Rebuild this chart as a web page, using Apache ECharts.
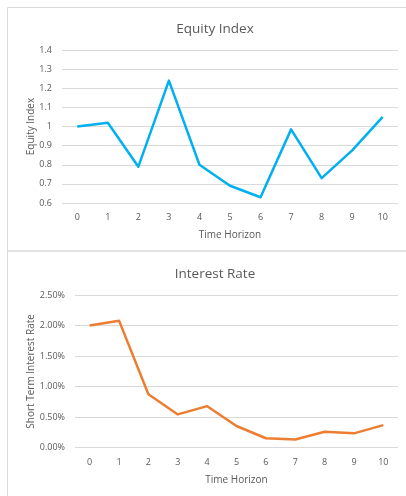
<!DOCTYPE html>
<html>
<head>
<meta charset="utf-8">
<script src="https://cdn.jsdelivr.net/npm/echarts@6/dist/echarts.min.js"></script>
<style>
  html, body { margin: 0; padding: 0; background: #fff; }
  #chart { width: 406px; height: 496px; }
</style>
</head>
<body>
<div id="chart"></div>
<script>
// Simulated paths over the time horizon
const horizon = ['0', '1', '2', '3', '4', '5', '6', '7', '8', '9', '10'];
const equityIndex = [1.0, 1.02, 0.79, 1.24, 0.80, 0.69, 0.63, 0.985, 0.73, 0.875, 1.05];
// Short term interest rate, in percent
const shortRate = [2.00, 2.08, 0.875, 0.545, 0.68, 0.355, 0.155, 0.135, 0.26, 0.235, 0.37];

const textColor = '#595959';
const gridColor = '#d9d9d9';
const fontFamily = '"Open Sans", "Noto Sans", sans-serif';

const chart = echarts.init(document.getElementById('chart'), null, { renderer: 'canvas' });

function xAxis(gridIndex) {
  return {
    type: 'category', gridIndex, data: horizon, boundaryGap: true,
    name: 'Time Horizon', nameLocation: 'middle', nameGap: 27,
    nameTextStyle: { color: textColor, fontSize: 10, fontFamily },
    axisLine: { show: false }, axisTick: { show: false },
    axisLabel: { color: textColor, fontSize: 9, fontFamily, margin: 10 }
  };
}

chart.setOption({
  animation: false,
  textStyle: { fontFamily },
  graphic: [
    { type: 'rect', shape: { x: 7.5, y: 7.5, width: 420, height: 243.5 },
      style: { fill: 'none', stroke: '#d9d9d9', lineWidth: 1 } },
    { type: 'rect', shape: { x: 7.5, y: 251, width: 420, height: 260 },
      style: { fill: 'none', stroke: '#d9d9d9', lineWidth: 1 } }
  ],
  title: [
    { text: 'Equity Index', left: 210, top: 17, textAlign: 'center',
      textStyle: { color: textColor, fontSize: 13.5, fontWeight: 'normal', fontFamily } },
    { text: 'Interest Rate', left: 210, top: 262, textAlign: 'center',
      textStyle: { color: textColor, fontSize: 13.5, fontWeight: 'normal', fontFamily } }
  ],
  grid: [
    { left: 62, right: 8, top: 50, height: 153 },
    { left: 75, right: 8, top: 295, height: 152.7 }
  ],
  xAxis: [xAxis(0), xAxis(1)],
  yAxis: [
    {
      type: 'value', gridIndex: 0, min: 0.6, max: 1.4, interval: 0.1,
      name: 'Equity Index', nameLocation: 'middle', nameGap: 26, nameRotate: 90,
      nameMoveOverlap: false,
      nameTextStyle: { color: textColor, fontSize: 10, fontFamily },
      axisLine: { show: false }, axisTick: { show: false },
      splitLine: { lineStyle: { color: gridColor, width: 1 } },
      axisLabel: { color: textColor, fontSize: 9, fontFamily, margin: 10,
        formatter: v => String(Math.round(v * 10) / 10) }
    },
    {
      type: 'value', gridIndex: 1, min: 0, max: 2.5, interval: 0.5,
      name: 'Short Term Interest Rate', nameLocation: 'middle', nameGap: 39, nameRotate: 90,
      nameMoveOverlap: false,
      nameTextStyle: { color: textColor, fontSize: 10, fontFamily },
      axisLine: { show: false }, axisTick: { show: false },
      splitLine: { lineStyle: { color: gridColor, width: 1 } },
      axisLabel: { color: textColor, fontSize: 9, fontFamily, margin: 10,
        formatter: v => v.toFixed(2) + '%' }
    }
  ],
  series: [
    { type: 'line', xAxisIndex: 0, yAxisIndex: 0, data: equityIndex,
      showSymbol: false, lineStyle: { color: '#00b0f0', width: 2.5, join: 'round' } },
    { type: 'line', xAxisIndex: 1, yAxisIndex: 1, data: shortRate,
      showSymbol: false, lineStyle: { color: '#ed7d31', width: 2.5, join: 'round' } }
  ]
});
</script>
</body>
</html>
